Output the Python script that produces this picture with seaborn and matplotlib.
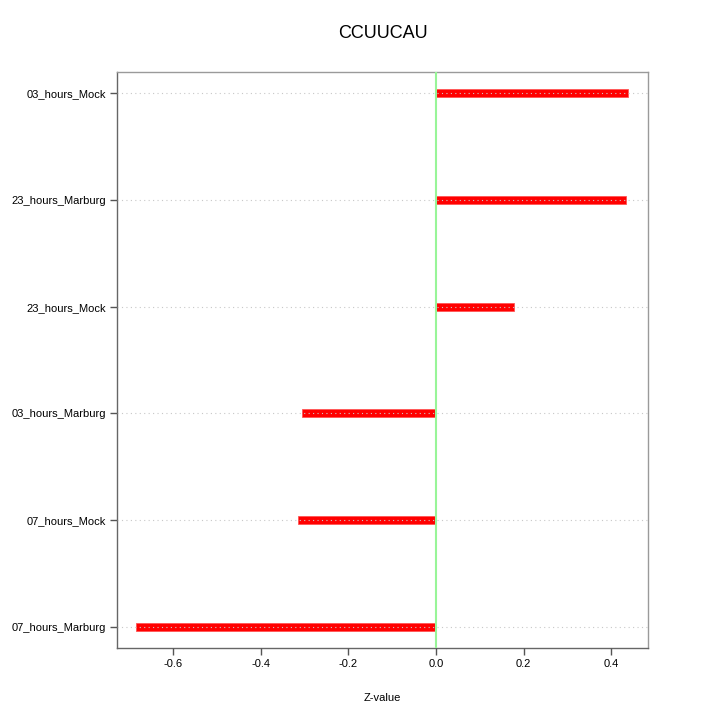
import matplotlib
matplotlib.use("Agg")
import matplotlib.pyplot as plt
import seaborn as sns
import pandas as pd

categories = ["03_hours_Mock", "23_hours_Marburg", "23_hours_Mock",
              "03_hours_Marburg", "07_hours_Mock", "07_hours_Marburg"]
zvalues = [0.438, 0.433, 0.178, -0.306, -0.315, -0.684]
xticks = [-0.6, -0.4, -0.2, 0.0, 0.2, 0.4]

sns.set_style("white")
plt.rcParams['font.family'] = ['Liberation Sans', 'DejaVu Sans']
plt.rcParams['text.color'] = 'black'
plt.rcParams['axes.labelcolor'] = 'black'
plt.rcParams['xtick.color'] = 'black'
plt.rcParams['ytick.color'] = 'black'

df = pd.DataFrame({"sample": categories, "z": zvalues})

fig = plt.figure(figsize=(7.2, 7.2), dpi=100)
ax = fig.add_axes([117/720, 1-648/720, (648-117)/720, (648-72)/720])

sns.barplot(data=df, x="z", y="sample", orient="h", order=categories,
            color="#ff0000", saturation=1, width=0.078, ax=ax, zorder=2,
            edgecolor="#ff5555", linewidth=0.6)

ax.axvline(0, color="#98f598", lw=1.5, zorder=4)
ax.set_xlim(-0.728, 0.484)
ax.set_ylim(5.2, -0.2)
ax.set_xticks(xticks)
ax.set_xticklabels([f"{v:.1f}" for v in xticks], fontsize=8)
ax.tick_params(axis='y', labelsize=8)
ax.grid(axis='y', color="#c8c8c8", linestyle=(0, (1, 3)), lw=0.8, zorder=3)
ax.grid(axis='x', visible=False)
ax.set_axisbelow(False)
ax.tick_params(axis='both', direction='out', length=5, width=1, color="#555555",
               labelcolor="black", left=True, bottom=True, top=False, right=False, pad=3)
for s in ["top", "right"]:
    ax.spines[s].set_color("#9a9a9a")
for s in ["left", "bottom"]:
    ax.spines[s].set_color("#666666")
for s in ax.spines.values():
    s.set_linewidth(1)
ax.set_ylabel("")
ax.set_xlabel("Z-value", fontsize=8, labelpad=17, color="black")
fig.text(382.5/720, 1-34/720, "CCUUCAU", fontsize=13, ha="center", va="center",
         color="black")

fig.savefig("out.png", dpi=100)
